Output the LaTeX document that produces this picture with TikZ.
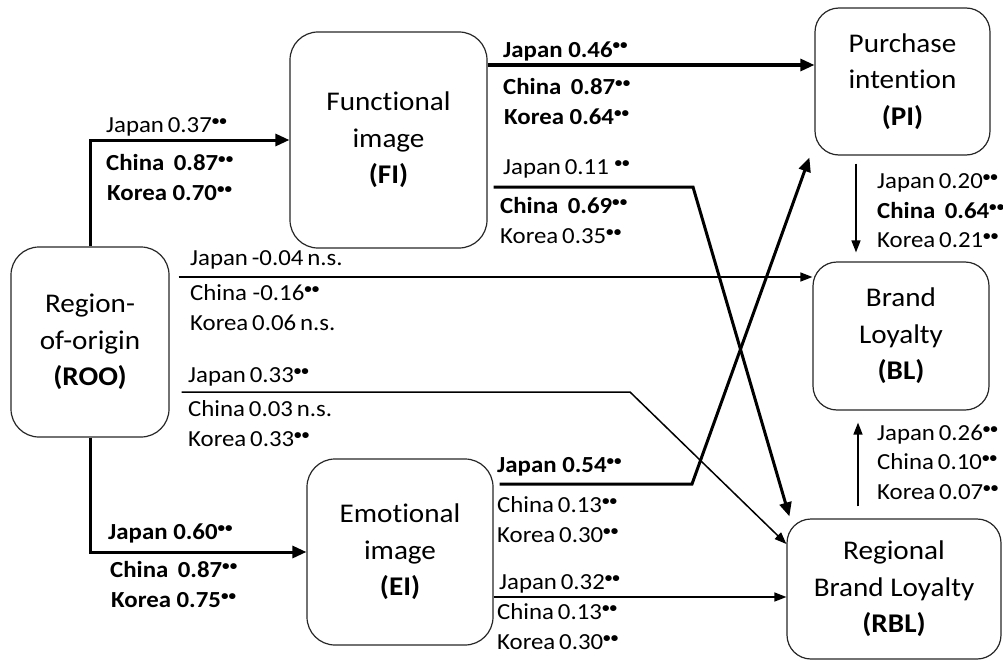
\documentclass[tikz,border=0pt]{standalone}
\usepackage{fontspec}
\setmainfont[FakeStretch=1.08,RawFeature={-liga;-clig;-calt;-dlig}]{Carlito}
\usetikzlibrary{arrows.meta,calc}
\newcommand{\sigdots}{\raisebox{7pt}{\fontsize{14}{14}\selectfont\bfseries ••}}
\begin{document}
\begin{tikzpicture}[x=1pt,y=-1pt,
 box/.style={draw=black!85, line width=1.2pt, rounded corners=28pt, align=center,
   font=\fontsize{27}{36.5}\selectfont, inner sep=0pt},
 thickarr/.style={line width=3pt, -{Triangle[length=14pt,width=12pt]}},
 thinarr/.style={line width=1.5pt, -{Triangle[length=12pt,width=9pt]}},
 lab/.style={anchor=base west, inner sep=0pt, font=\fontsize{23}{23}\selectfont},
 blab/.style={anchor=base west, inner sep=0pt, font=\fontsize{23}{23}\selectfont\bfseries}]
\useasboundingbox (0,0) rectangle (1003,661);

% nodes
\node[box, minimum width=158pt, minimum height=190pt] (roo) at (90,342) {Region-\\of-origin\\\textbf{(ROO)}};
\node[box, minimum width=197pt, minimum height=216pt] (fi) at (388.5,140) {Functional\\image\\\textbf{(FI)}};
\node[box, minimum width=186pt, minimum height=186pt] (ei) at (400,552) {Emotional\\image\\\textbf{(EI)}};
\node[box, minimum width=175pt, minimum height=147pt, rounded corners=24pt] (pi) at (902.5,81.5) {Purchase\\intention\\\textbf{(PI)}};
\node[box, minimum width=176pt, minimum height=148pt, rounded corners=24pt] (bl) at (901,336) {Brand\\Loyalty\\\textbf{(BL)}};
\node[box, minimum width=214pt, minimum height=140pt, rounded corners=24pt] (rbl) at (894,589) {Regional\\Brand Loyalty\\\textbf{(RBL)}};

% connectors
\coordinate (k1) at (630,392);
\coordinate (k2) at (693,187);
\coordinate (k3) at (692,484);
\draw[thickarr] (roo.north) |- (fi.west);
\draw[thickarr] (roo.south) |- (ei.west);
\draw[thinarr, shorten <=9pt] (roo.east |- 0,277) -- (bl.west |- 0,277);
\draw[thinarr, shorten <=12pt] (roo.east |- k1) -- (k1) -- (rbl.west |- 0,544);
\draw[thickarr] (fi.east |- 0,65) -- (pi.west |- 0,65);
\draw[thickarr, shorten <=6pt] (fi.east |- k2) -- (k2) -- ($(rbl.north west)+(3,-2)$);
\draw[thickarr, shorten <=6pt] (ei.east |- k3) -- (k3) -- ($(pi.south west)+(-5,2)$);
\draw[thinarr] (ei.east |- 0,597) -- (rbl.west |- 0,597);
\draw[thinarr, shorten <=8pt, shorten >=9pt] (pi.south -| 856,0) -- (bl.north -| 856,0);
\draw[thinarr, shorten <=12pt, shorten >=12pt] (rbl.north -| 858,0) -- (bl.south -| 858,0);

% labels ROO -> FI
\node[lab]  (a1) at (106,132) {Japan\,0.37\sigdots};
\node[blab] (a2) at (106,170) {China\, 0.87\sigdots};
\node[blab] (a3) at (107,200) {Korea 0.70\sigdots};
% ROO -> BL
\node[lab] (b1) at (190,265) {Japan\,-0.04\,n.s.};
\node[lab] (b2) at (190,300) {China -0.16\sigdots};
\node[lab] (b3) at (190,330) {Korea\,0.06\,n.s.};
% ROO -> RBL
\node[lab] (c1) at (188,382) {Japan\,0.33\sigdots};
\node[lab] (c2) at (188,416) {China\,0.03\,n.s.};
\node[lab] (c3) at (188,446) {Korea\,0.33\sigdots};
% ROO -> EI
\node[blab] (d1) at (108,539) {Japan 0.60\sigdots};
\node[blab] (d2) at (110,577) {China\, 0.87\sigdots};
\node[blab] (d3) at (111,607) {Korea 0.75\sigdots};
% FI -> PI
\node[blab] (e1) at (503,57) {Japan 0.46\sigdots};
\node[blab] (e2) at (503,94) {China\, 0.87\sigdots};
\node[blab] (e3) at (504,124) {Korea 0.64\sigdots};
% FI -> RBL
\node[lab]  (f1) at (503,174) {Japan\,0.11 \sigdots};
\node[blab] (f2) at (500,213) {China\, 0.69\sigdots};
\node[lab]  (f3) at (500,243) {Korea\,0.35\sigdots};
% EI -> PI
\node[blab] (g1) at (497,472) {Japan 0.54\sigdots};
\node[lab]  (g2) at (497,512) {China\,0.13\sigdots};
\node[lab]  (g3) at (497,542) {Korea\,0.30\sigdots};
% EI -> RBL
\node[lab] (h1) at (499,589) {Japan\,0.32\sigdots};
\node[lab] (h2) at (497,619) {China\,0.13\sigdots};
\node[lab] (h3) at (497,649) {Korea\,0.30\sigdots};
% PI -> BL
\node[lab]  (i1) at (877,188) {Japan\,0.20\sigdots};
\node[blab] (i2) at (877,218) {China\, 0.64\sigdots};
\node[lab]  (i3) at (877,247) {Korea\,0.21\sigdots};
% RBL -> BL
\node[lab] (j1) at (877,440) {Japan\,0.26\sigdots};
\node[lab] (j2) at (877,469) {China\,0.10\sigdots};
\node[lab] (j3) at (877,499) {Korea\,0.07\sigdots};
\end{tikzpicture}
\end{document}
